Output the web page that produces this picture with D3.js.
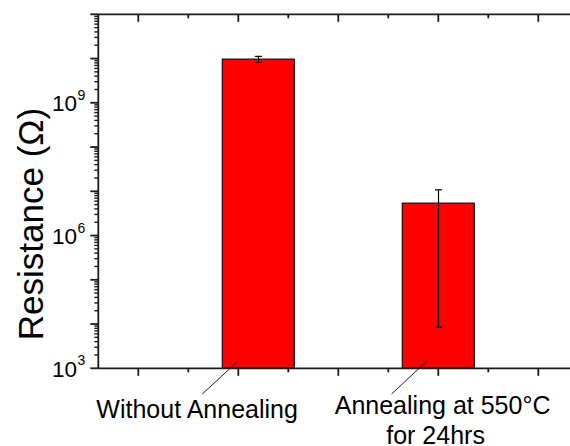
<!DOCTYPE html>
<html>
<head>
<meta charset="utf-8">
<script src="https://cdn.jsdelivr.net/npm/d3@7/dist/d3.min.js"></script>
<style>
  html, body { margin: 0; padding: 0; background: #fff; }
  svg { display: block; }
</style>
</head>
<body>
<svg id="chart" width="570" height="446"></svg>
<script>
// ---- data ----
const categories = [["Without Annealing"], ["Annealing at 550\u00B0C", "for 24hrs"]];
const xValues = [2.2, 4.0];                 // bar centres on the numeric x axis
const resistance = [9.7e9, 5.4e6];          // ohms
const resistanceErr = [1.5e9, 5.3915e6];    // ohms (symmetric)
const yLabelExponents = [3, 6, 9];
const xMajorTicks = [1, 2, 3, 4, 5];
const xMinorTicks = [1.5, 2.5, 3.5, 4.5];

// ---- layout ----
const W = 570, H = 446;
const plotLeft = 98.3, plotTop = 14.3, plotBottom = 368.3;
const font = "'Liberation Sans', Arial, sans-serif";
const axisColor = "#1c1c1c";

const svg = d3.select("#chart");
svg.append("rect").attr("width", W).attr("height", H).attr("fill", "#fff");

const x = d3.scaleLinear().domain([0.6, 5.4]).range([plotLeft, plotLeft + 480]);
const y = d3.scaleLog().domain([1e3, 1e11]).range([plotBottom, plotTop]);
const barWidth = x(0.72) - x(0);

// ---- bars ----
const g = svg.append("g");
g.selectAll("rect.bar")
  .data(resistance)
  .join("rect")
  .attr("class", "bar")
  .attr("x", (d, i) => x(xValues[i]) - barWidth / 2)
  .attr("width", barWidth)
  .attr("y", d => y(d))
  .attr("height", d => plotBottom - y(d))
  .attr("fill", "#ff0000")
  .attr("stroke", "#111")
  .attr("stroke-width", 1.2);

// ---- error bars ----
const capHalf = 3.5;
resistance.forEach((v, i) => {
  const cx = Math.round(x(xValues[i])) + 0.5;
  const y1 = y(v + resistanceErr[i]);
  const y0 = y(v - resistanceErr[i]);
  const eg = g.append("g").attr("stroke", "#000").attr("stroke-width", 1.2);
  eg.append("line").attr("x1", cx).attr("x2", cx).attr("y1", y1).attr("y2", y0);
  eg.append("line").attr("x1", cx - capHalf).attr("x2", cx + capHalf).attr("y1", y1).attr("y2", y1);
  eg.append("line").attr("x1", cx - capHalf).attr("x2", cx + capHalf).attr("y1", y0).attr("y2", y0);
});

// ---- axes ----
const ax = svg.append("g").attr("stroke", axisColor).attr("stroke-width", 1.8).attr("fill", "none");
// frame lines: left, bottom, top
ax.append("line").attr("x1", plotLeft).attr("x2", plotLeft).attr("y1", plotTop).attr("y2", plotBottom);
ax.append("line").attr("x1", plotLeft).attr("x2", W).attr("y1", plotBottom).attr("y2", plotBottom);
ax.append("line").attr("x1", plotLeft).attr("x2", W).attr("y1", plotTop).attr("y2", plotTop);

// y ticks (log: majors at decades, minors at 2..9)
y.ticks().forEach(t => {
  const lg = Math.log10(t);
  const major = Math.abs(lg - Math.round(lg)) < 1e-9;
  const len = major ? 8 : 4;
  ax.append("line")
    .attr("x1", plotLeft - len).attr("x2", plotLeft)
    .attr("y1", y(t)).attr("y2", y(t))
    .attr("stroke-width", major ? 1.8 : 1.4);
});

// x ticks: bottom outward, top inward
[[xMajorTicks, 7.5], [xMinorTicks, 4]].forEach(([ticks, len]) => {
  ticks.forEach(t => {
    ax.append("line").attr("x1", x(t)).attr("x2", x(t)).attr("y1", plotBottom).attr("y2", plotBottom + len);
    ax.append("line").attr("x1", x(t)).attr("x2", x(t)).attr("y1", plotTop).attr("y2", plotTop + len);
  });
});

// y tick labels 10^n
const labG = svg.append("g").attr("font-family", font).attr("fill", "#000");
yLabelExponents.forEach(e => {
  const ty = y(Math.pow(10, e));
  labG.append("text")
    .attr("x", 77).attr("y", ty + 8.6)
    .attr("text-anchor", "end").attr("font-size", 22.5)
    .text("10");
  labG.append("text")
    .attr("x", 77.5).attr("y", ty - 3)
    .attr("text-anchor", "start").attr("font-size", 14)
    .text(e);
});

// y axis title
svg.append("text")
  .attr("transform", "translate(43,224) rotate(-90)")
  .attr("text-anchor", "middle")
  .attr("font-family", font)
  .attr("font-size", 35)
  .attr("fill", "#000")
  .text("Resistance (\u03A9)");

// ---- category labels with leader lines ----
// leader: [dx top, dy top, dx bottom, dy bottom] relative to bar centre / axis
const leaders = [[-21, -6.6, -56, 25.7], [-11, -7.6, -46.7, 25.7]];
// label line anchors relative to bar centre / axis
const labelLines = [
  [[-61.2, 50]],
  [[4.3, 45.7], [-2.7, 76]]
];
categories.forEach((lines, i) => {
  const cx = x(xValues[i]);
  const L = leaders[i];
  svg.append("line")
    .attr("x1", cx + L[0]).attr("y1", plotBottom + L[1])
    .attr("x2", cx + L[2]).attr("y2", plotBottom + L[3])
    .attr("stroke", "#222").attr("stroke-width", 1);
  lines.forEach((txt, j) => {
    const p = labelLines[i][j];
    svg.append("text")
      .attr("x", cx + p[0]).attr("y", plotBottom + p[1])
      .attr("text-anchor", "middle")
      .attr("font-family", font)
      .attr("font-size", 25)
      .attr("fill", "#000")
      .text(txt);
  });
});
</script>
</body>
</html>
